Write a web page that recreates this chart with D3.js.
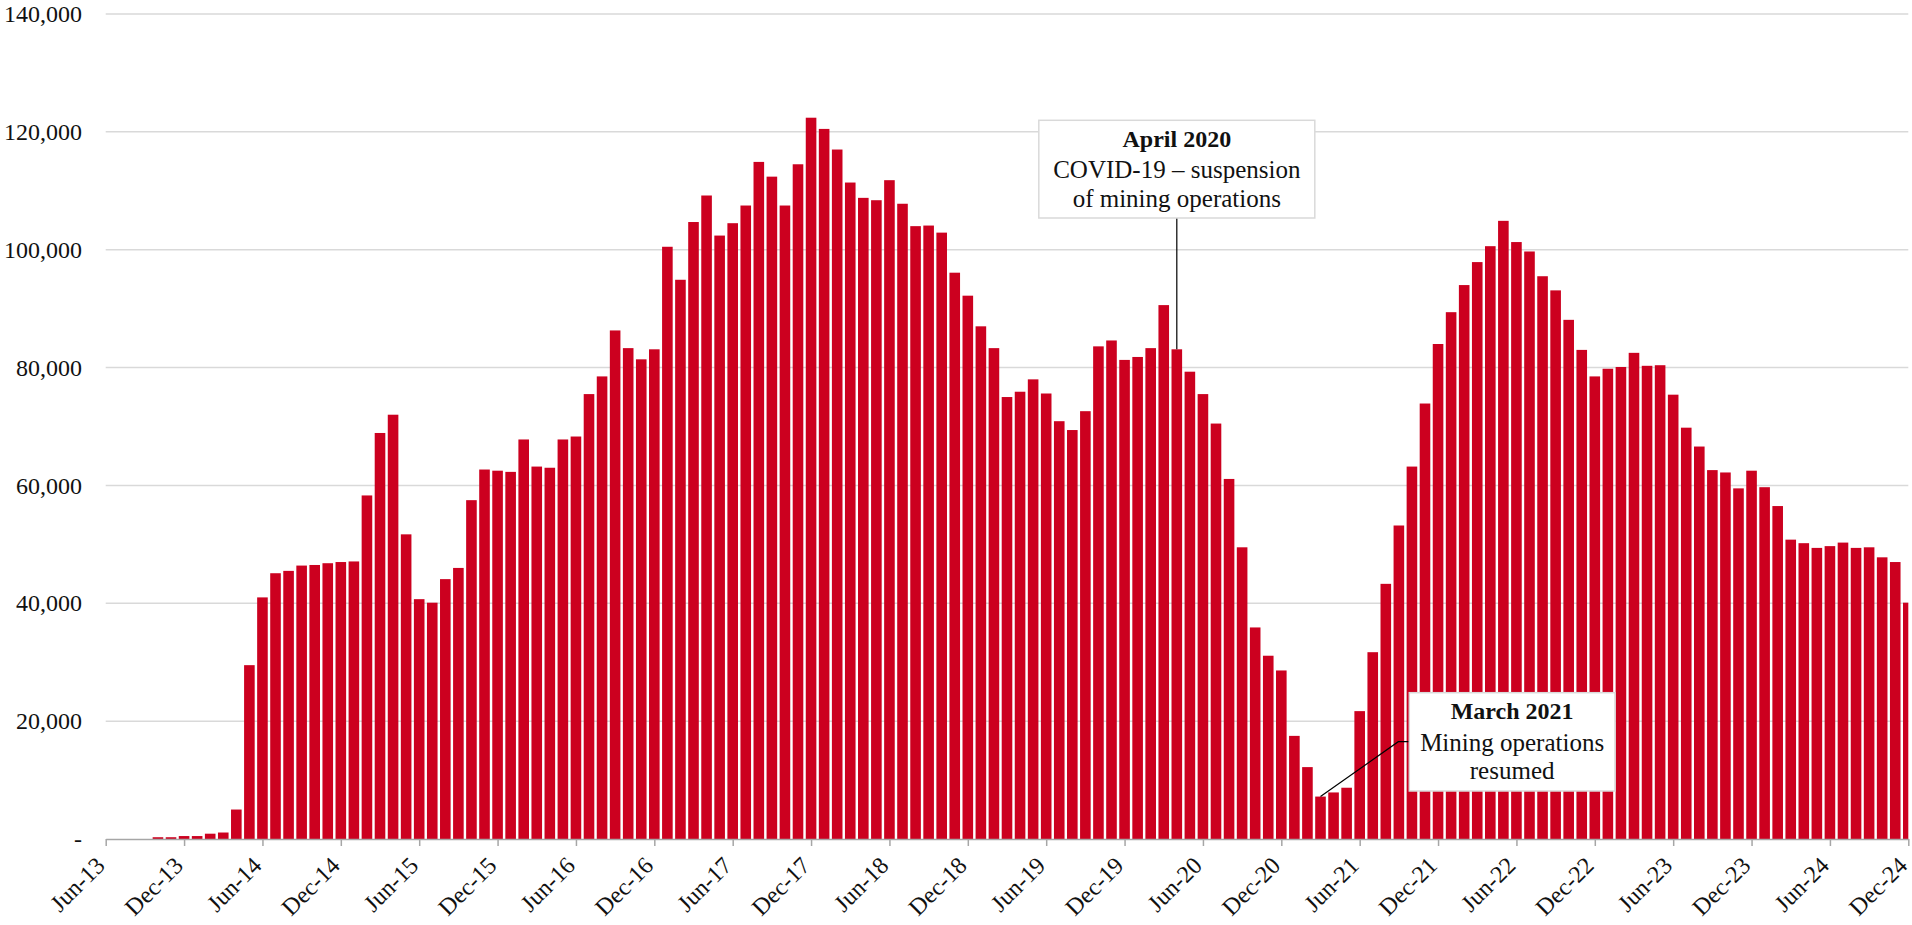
<!DOCTYPE html>
<html>
<head>
<meta charset="utf-8">
<script src="https://cdnjs.cloudflare.com/ajax/libs/d3/7.8.5/d3.min.js"></script>
<style>
  body { margin: 0; background: #fff; }
  text { font-family: "Liberation Serif", "Times New Roman", serif; fill: #111; }
</style>
</head>
<body>
<div id="chart"></div>
<script>
// month names used for the category labels
var monthNames = ["Jan", "Feb", "Mar", "Apr", "May", "Jun", "Jul", "Aug", "Sep", "Oct", "Nov", "Dec"];

// monthly values (2013 starts in June)
var v2013 = [0, 0, 0, 0, 300, 300, 500];
var v2014 = [500, 900, 1100, 5000, 29500, 41000, 45100, 45500, 46400, 46500, 46800, 47000];
var v2015 = [47100, 58300, 68900, 72000, 51700, 40700, 40100, 44100, 46000, 57500, 62700, 62500];
var v2016 = [62300, 67800, 63200, 63000, 67800, 68300, 75500, 78500, 86300, 83300, 81400, 83100];
var v2017 = [100500, 94900, 104700, 109200, 102400, 104500, 107500, 114900, 112400, 107500, 114500, 122400];
var v2018 = [120500, 117000, 111400, 108800, 108400, 111800, 107800, 104000, 104100, 102900, 96100, 92200];
var v2019 = [87000, 83300, 75000, 75900, 78000, 75600, 70900, 69400, 72600, 83600, 84600, 81300];
var v2020 = [81800, 83300, 90600, 83100, 79300, 75500, 70500, 61100, 49500, 35900, 31100, 28600];
var v2021 = [17500, 12200, 7200, 7900, 8700, 21700, 31700, 43300, 53200, 63200, 73900, 84000];
var v2022 = [89400, 94000, 97900, 100600, 104900, 101300, 99700, 95500, 93100, 88100, 83000, 78500];
var v2023 = [79800, 80100, 82500, 80300, 80400, 75400, 69800, 66600, 62600, 62200, 59500, 62500];
var v2024 = [59700, 56500, 50800, 50200, 49400, 49700, 50300, 49400, 49500, 47800, 47000, 40100];

var years = [2013, 2014, 2015, 2016, 2017, 2018, 2019, 2020, 2021, 2022, 2023, 2024];
var yearValues = [v2013, v2014, v2015, v2016, v2017, v2018, v2019, v2020, v2021, v2022, v2023, v2024];

var yTicks = [0, 20000, 40000, 60000, 80000, 100000, 120000, 140000];

// annotations
var noteCovid = { month: "Apr-20", title: "April 2020", lines: ["COVID-19 \u2013 suspension", "of mining operations"] };
var noteResume = { month: "Mar-21", title: "March 2021", lines: ["Mining operations", "resumed"] };

// flatten into one list of {label, value}
var data = [];
years.forEach(function(yr, k) {
    var vals = yearValues[k];
    var startMonth = 12 - vals.length; // 2013 starts in June
    vals.forEach(function(v, j) {
        data.push({ label: monthNames[startMonth + j] + "-" + String(yr).slice(2), value: v });
    });
});

// tick every 6 months, starting Jun-13
var tickLabels = data.filter(function(d, i) { return i % 6 === 0; }).map(function(d) { return d.label; });

var width = 1912, height = 925;
var margin = { top: 14, right: 3.7, bottom: 86, left: 105.7 };

var svg = d3.select("#chart").append("svg")
    .attr("width", width)
    .attr("height", height);

var x = d3.scalePoint()
    .domain(data.map(function(d) { return d.label; }))
    .range([margin.left, width - margin.right]);

var y = d3.scaleLinear()
    .domain([0, 140000])
    .range([height - margin.bottom, margin.top]);

var barW = 10.6;
var fmt = d3.format(",");

// gridlines
svg.append("g").selectAll("line")
    .data(yTicks.filter(function(t) { return t > 0; }))
    .enter().append("line")
    .attr("x1", margin.left).attr("x2", width - margin.right)
    .attr("y1", function(d) { return y(d); }).attr("y2", function(d) { return y(d); })
    .attr("stroke", "#d9d9d9").attr("stroke-width", 1.5);

// y labels
svg.append("g").selectAll("text")
    .data(yTicks)
    .enter().append("text")
    .attr("x", 82)
    .attr("y", function(d) { return y(d); })
    .attr("dy", "0.34em")
    .attr("text-anchor", "end")
    .style("font-size", "24px")
    .text(function(d) { return d === 0 ? "-" : fmt(d); });

// clip bars to plot area (first and last bars sit on the edges)
svg.append("clipPath").attr("id", "plotclip")
    .append("rect")
    .attr("x", margin.left).attr("y", 0)
    .attr("width", width - margin.right - margin.left)
    .attr("height", height - margin.bottom);

svg.append("g").attr("clip-path", "url(#plotclip)")
    .selectAll("rect")
    .data(data)
    .enter().append("rect")
    .attr("x", function(d) { return x(d.label) - barW / 2; })
    .attr("width", barW)
    .attr("y", function(d) { return y(d.value); })
    .attr("height", function(d) { return y(0) - y(d.value); })
    .attr("fill", "#cc001f");

// x axis
var xAxis = d3.axisBottom(x).tickValues(tickLabels).tickSize(7).tickSizeOuter(0);
var gx = svg.append("g")
    .attr("transform", "translate(0," + y(0) + ")")
    .call(xAxis);
gx.select(".domain").attr("stroke", "#a6a6a6").attr("stroke-width", 1.5);
gx.selectAll(".tick line").attr("stroke", "#a6a6a6").attr("stroke-width", 1.5);
gx.selectAll(".tick text")
    .attr("y", 0).attr("dy", 0)
    .attr("text-anchor", "end")
    .attr("transform", "translate(0,28) rotate(-45)")
    .style("font-size", "24px")
    .style("font-family", "Liberation Serif, serif")
    .attr("fill", "#111");

// annotation boxes
function drawNote(note, bx, by, bw, bh) {
    var g = svg.append("g");
    g.append("rect")
        .attr("x", bx).attr("y", by).attr("width", bw).attr("height", bh)
        .attr("fill", "#fff").attr("stroke", "#d9d9d9").attr("stroke-width", 1.5);
    var cx = bx + bw / 2;
    g.append("text").attr("x", cx).attr("y", by + 26.5)
        .attr("text-anchor", "middle").style("font-size", "24px").style("font-weight", "bold")
        .text(note.title);
    note.lines.forEach(function(l, i) {
        g.append("text").attr("x", cx).attr("y", by + 58 + i * 28.5)
            .attr("text-anchor", "middle").style("font-size", "25px")
            .text(l);
    });
}

function valueOf(label) {
    return data.filter(function(d) { return d.label === label; })[0].value;
}

// April 2020 note, leader straight down to the bar
var ax = x(noteCovid.month);
svg.append("line")
    .attr("x1", ax).attr("x2", ax)
    .attr("y1", 218).attr("y2", y(valueOf(noteCovid.month)))
    .attr("stroke", "#000").attr("stroke-width", 1.2);
drawNote(noteCovid, ax - 138, 120.3, 276, 97.7);

// March 2021 note, leader bent up to the box side
var mx = x(noteResume.month);
svg.append("polyline")
    .attr("points", [[mx, y(valueOf(noteResume.month))], [1398.3, 741.7], [1409.3, 741.7]].join(" "))
    .attr("fill", "none")
    .attr("stroke", "#000").attr("stroke-width", 1.2);
drawNote(noteResume, 1409.3, 692.7, 205.7, 98.3);
</script>
</body>
</html>
